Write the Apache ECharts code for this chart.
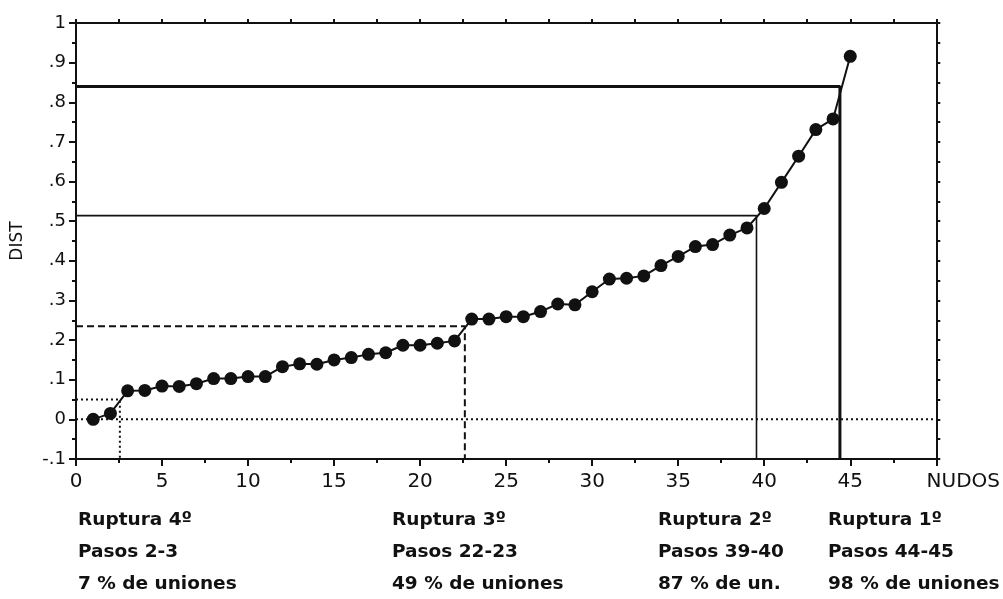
<!DOCTYPE html>
<html>
<head>
<meta charset="utf-8">
<script src="https://cdn.jsdelivr.net/npm/echarts@6/dist/echarts.min.js"></script>
<style>
  html, body { margin: 0; padding: 0; background: #fff; }
  #chart { width: 1003px; height: 599px; }
</style>
</head>
<body>
<div id="chart"></div>
<script>
// Nodes (fusion steps) and the distance at which each one is formed
const nudos = [1, 2, 3, 4, 5, 6, 7, 8, 9, 10, 11, 12, 13, 14, 15, 16, 17, 18, 19, 20,
  21, 22, 23, 24, 25, 26, 27, 28, 29, 30, 31, 32, 33, 34, 35, 36, 37, 38, 39, 40,
  41, 42, 43, 44, 45];
const dist = [0.000, 0.015, 0.072, 0.073, 0.084, 0.083, 0.090, 0.103, 0.103, 0.108,
  0.108, 0.133, 0.140, 0.139, 0.150, 0.156, 0.164, 0.168, 0.187, 0.187,
  0.192, 0.198, 0.253, 0.253, 0.259, 0.259, 0.272, 0.291, 0.289, 0.322,
  0.354, 0.356, 0.362, 0.388, 0.411, 0.436, 0.441, 0.465, 0.483, 0.532,
  0.598, 0.664, 0.731, 0.758, 0.916];

// Cut levels of the dendrogram (4th, 3rd, 2nd, 1st break) and where they meet the curve
const cutLevels = [0.05, 0.235, 0.514, 0.84];
const cutSteps = [2.55, 22.6, 39.55, 44.4];

// Tick labels
const xTicks = [0, 5, 10, 15, 20, 25, 30, 35, 40, 45, 50];
const xEndLabel = 'NUDOS';
const yName = 'DIST';

// Notes under the chart, one column per break
const rupturas = [
  ['Ruptura 4º', 'Pasos 2-3', '7 % de uniones'],
  ['Ruptura 3º', 'Pasos 22-23', '49 % de uniones'],
  ['Ruptura 2º', 'Pasos 39-40', '87 % de un.'],
  ['Ruptura 1º', 'Pasos 44-45', '98 % de uniones']
];

const FONT = 'DejaVu Sans';
const black = '#111';

const points = nudos.map((n, i) => [n, dist[i]]);

// drawing style of each cut line (dotted, dashed, thin, thick)
const cutStyles = [
  { type: [2, 3], width: 2 },
  { type: [7, 4], width: 2 },
  { type: 'solid', width: 1.6 },
  { type: 'solid', width: 3 }
];

const cutSeries = cutLevels.map((lvl, i) => ({
  type: 'line',
  xAxisIndex: 0, yAxisIndex: 0,
  data: [[0, lvl], [cutSteps[i], lvl], [cutSteps[i], -0.1]],
  symbol: 'none',
  silent: true,
  z: 2,
  lineStyle: { color: black, width: cutStyles[i].width, type: cutStyles[i].type }
}));

const chart = echarts.init(document.getElementById('chart'), null, { renderer: 'canvas' });

function yFmt(v) {
  if (Math.abs(v) < 1e-9) return '0';
  if (Math.abs(v - 1) < 1e-9) return '1';
  return v.toFixed(1).replace('0.', '.');
}

const axisLineStyle = { color: black, width: 2 };

chart.setOption({
  animation: false,
  backgroundColor: '#fff',
  grid: { left: 76, top: 23, width: 861, height: 436, containLabel: false },
  xAxis: [
    {
      type: 'value', position: 'bottom', min: 0, max: 50, interval: 5,
      axisLine: { show: true, onZero: false, lineStyle: axisLineStyle },
      axisTick: { show: true, inside: false, length: 7, lineStyle: { color: black, width: 2 } },
      minorTick: { show: true, splitNumber: 2, length: 4, lineStyle: { color: black, width: 2 } },
      splitLine: { show: false },
      axisLabel: {
        margin: 13, color: black, fontFamily: FONT, fontSize: 20,
        formatter: v => (v === 50 ? '{n|' + xEndLabel + '}' : (xTicks.indexOf(v) >= 0 ? String(v) : '')),
        rich: { n: { fontFamily: FONT, fontSize: 20, color: black, padding: [0, 0, 0, 54] } }
      }
    },
    {
      type: 'value', position: 'top', min: 0, max: 50, interval: 2.5,
      axisLine: { show: true, onZero: false, lineStyle: axisLineStyle },
      axisTick: { show: true, inside: false, length: 4, lineStyle: { color: black, width: 2 } },
      splitLine: { show: false },
      axisLabel: { show: false }
    }
  ],
  yAxis: [
    {
      type: 'value', position: 'left', min: -0.1, max: 1, interval: 0.1,
      name: yName, nameLocation: 'middle', nameGap: 50, nameRotate: 90,
      nameTextStyle: { fontFamily: FONT, fontSize: 17, color: black },
      axisLine: { show: true, onZero: false, lineStyle: axisLineStyle },
      axisTick: { show: true, inside: false, length: 7, lineStyle: { color: black, width: 2 } },
      minorTick: { show: true, splitNumber: 2, length: 4, lineStyle: { color: black, width: 2 } },
      splitLine: { show: false },
      axisLabel: { margin: 10, color: black, fontFamily: FONT, fontSize: 18, formatter: yFmt }
    },
    {
      type: 'value', position: 'right', min: -0.1, max: 1, interval: 0.05,
      axisLine: { show: true, onZero: false, lineStyle: axisLineStyle },
      axisTick: { show: true, inside: false, length: 4, lineStyle: { color: black, width: 2 } },
      splitLine: { show: false },
      axisLabel: { show: false }
    }
  ],
  series: [
    // reference line at zero distance
    {
      type: 'line', xAxisIndex: 0, yAxisIndex: 0,
      data: [[0, 0], [50, 0]], symbol: 'none', silent: true, z: 1,
      lineStyle: { color: black, width: 2, type: [2, 3] }
    },
    ...cutSeries,
    {
      type: 'line', xAxisIndex: 0, yAxisIndex: 0,
      data: points,
      symbol: 'circle', symbolSize: 13, showSymbol: true, z: 5,
      itemStyle: { color: black },
      lineStyle: { color: black, width: 2 }
    }
  ],
  graphic: rupturas.map((lines, i) => ({
    type: 'text',
    left: [78, 392, 658, 828][i],
    top: 504,
    style: {
      text: lines.join('\n'),
      font: 'bold 18.5px "' + FONT + '"',
      lineHeight: 32,
      fill: black
    }
  }))
});
</script>
</body>
</html>
